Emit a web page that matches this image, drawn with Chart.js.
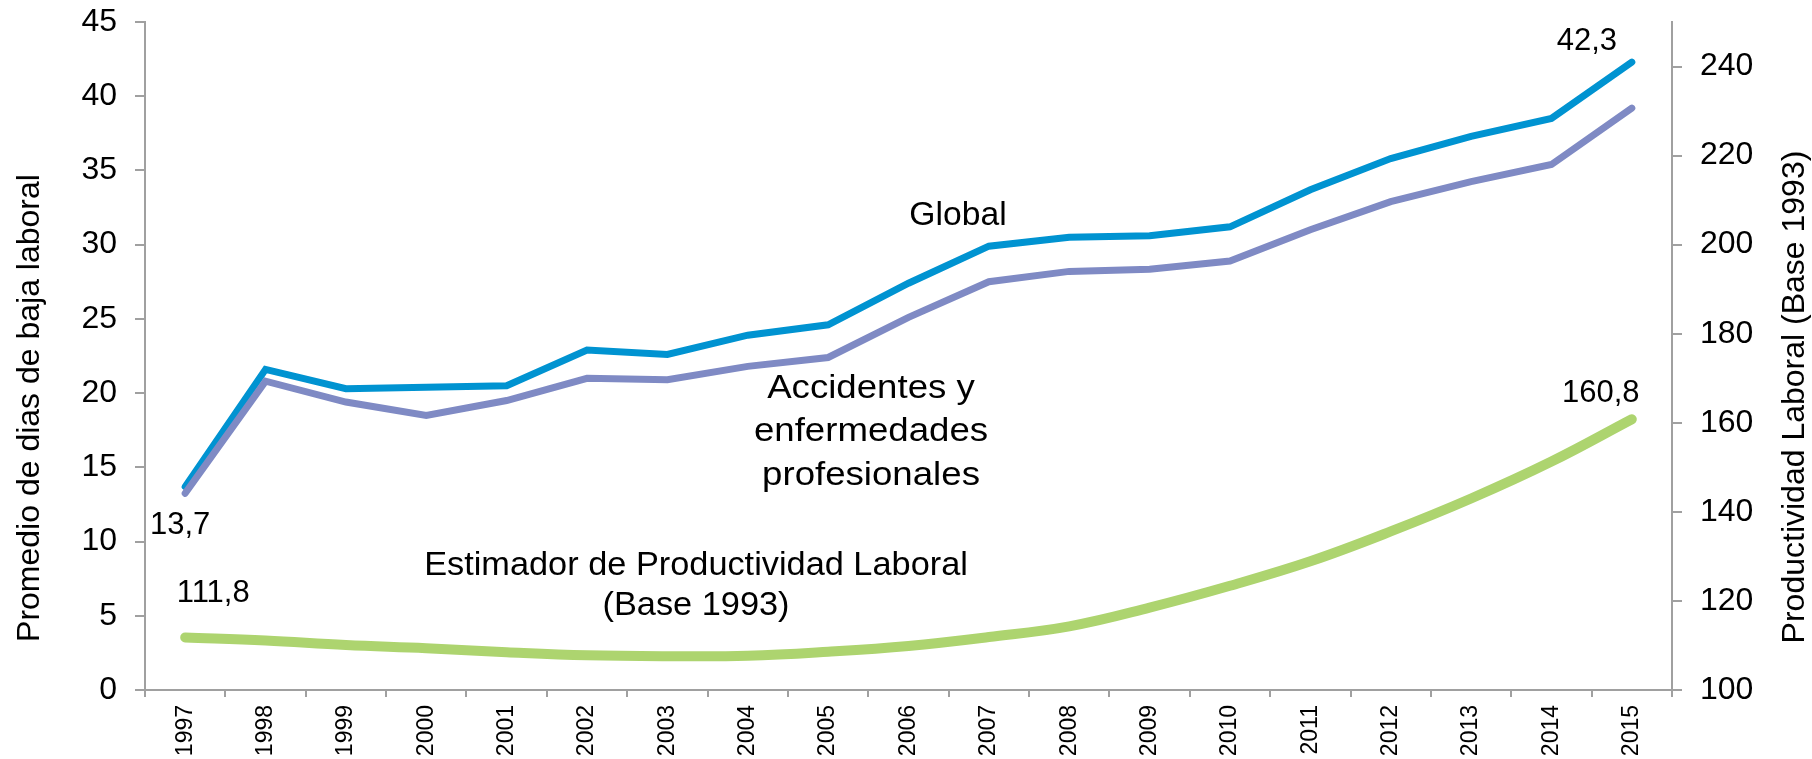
<!DOCTYPE html>
<html>
<head>
<meta charset="utf-8">
<script src="https://cdn.jsdelivr.net/npm/chart.js@4.4.1/dist/chart.umd.min.js"></script>
<style>
  html, body { margin: 0; padding: 0; background: #ffffff; }
  canvas { display: block; }
</style>
</head>
<body>
<canvas id="c" width="1812" height="759"></canvas>
<script>
// ---- data ----
const years = ['1997','1998','1999','2000','2001','2002','2003','2004','2005','2006','2007','2008','2009','2010','2011','2012','2013','2014','2015'];
const globalDays = [13.7, 21.6, 20.3, 20.4, 20.5, 22.9, 22.6, 23.9, 24.6, 27.4, 29.9, 30.5, 30.6, 31.2, 33.7, 35.8, 37.3, 38.5, 42.3];
const accidentDays = [13.25, 20.8, 19.4, 18.5, 19.5, 21.0, 20.9, 21.8, 22.4, 25.1, 27.5, 28.2, 28.35, 28.9, 31.0, 32.9, 34.25, 35.4, 39.2];
const productivity = [111.8, 111.1, 110.1, 109.4, 108.5, 107.8, 107.6, 107.7, 108.6, 109.9, 111.9, 114.3, 118.5, 123.4, 128.9, 135.6, 143.0, 151.3, 160.8];
const leftTitle = 'Promedio de dias de baja laboral';
const rightTitle = 'Productividad Laboral (Base 1993)';
const labelGlobal = ['Global'];
const labelAccidents = ['Accidentes y', 'enfermedades', 'profesionales'];
const labelProductivity = ['Estimador de Productividad Laboral', '(Base 1993)'];

const FONT = "'Liberation Sans', Arial, sans-serif";
const AXIS_GRAY = '#A0A0A0';

function fmt(v) { return String(v).replace('.', ','); }

const textPlugin = {
  id: 'texts',
  afterDatasetsDraw(chart) {
    const ctx = chart.ctx;
    const x = chart.scales.x, y = chart.scales.y, y1 = chart.scales.y1;
    const last = years.length - 1;
    ctx.save();
    ctx.fillStyle = '#000';

    // axis titles
    ctx.font = '32px ' + FONT;
    ctx.textAlign = 'center';
    ctx.textBaseline = 'alphabetic';
    ctx.save(); ctx.translate(38.5, 408); ctx.rotate(-Math.PI / 2); ctx.fillText(leftTitle, 0, 0); ctx.restore();
    ctx.save(); ctx.translate(1803.5, 397); ctx.rotate(-Math.PI / 2); ctx.fillText(rightTitle, 0, 0); ctx.restore();

    // value labels
    ctx.font = '31px ' + FONT;
    ctx.fillText(fmt(globalDays[0]), x.getPixelForValue(0) - 5, y.getPixelForValue(globalDays[0]) + 47);
    ctx.fillText(fmt(globalDays[last]), x.getPixelForValue(last) - 45, y.getPixelForValue(globalDays[last]) - 12);
    ctx.fillText(fmt(productivity[0]), x.getPixelForValue(0) + 28, y1.getPixelForValue(productivity[0]) - 35);
    ctx.fillText(fmt(productivity[last]), x.getPixelForValue(last) - 31, y1.getPixelForValue(productivity[last]) - 17);

    // series annotations
    ctx.font = '33px ' + FONT;
    function block(lines, cx, baseY, lh, sx) {
      lines.forEach((t, i) => {
        ctx.save();
        ctx.translate(cx, baseY + i * lh);
        ctx.scale(sx, 1);
        ctx.fillText(t, 0, 0);
        ctx.restore();
      });
    }
    block(labelGlobal, 958, 225, 0, 1.02);
    block(labelAccidents, 871, 397.5, 43.7, 1.11);
    block(labelProductivity, 696, 575, 40, 1.04);
    ctx.restore();
  }
};

const gridCommon = { drawOnChartArea: false, color: AXIS_GRAY, lineWidth: 2 };
const borderCommon = { display: true, color: AXIS_GRAY, width: 2 };

function fitV(width) {
  return function (s) { s.width = width; s.paddingTop = 0; s.paddingBottom = 0; };
}

new Chart(document.getElementById('c'), {
  type: 'line',
  data: {
    labels: years,
    datasets: [
      { label: 'Accidentes y enfermedades profesionales', data: accidentDays, yAxisID: 'y',
        borderColor: '#7F8AC4', borderWidth: 7, pointRadius: 0, tension: 0,
        borderCapStyle: 'round', borderJoinStyle: 'miter', fill: false },
      { label: 'Global', data: globalDays, yAxisID: 'y',
        borderColor: '#0093D1', borderWidth: 7, pointRadius: 0, tension: 0,
        borderCapStyle: 'round', borderJoinStyle: 'miter', fill: false },
      { label: 'Estimador de Productividad Laboral (Base 1993)', data: productivity, yAxisID: 'y1',
        borderColor: '#ADD46F', borderWidth: 10, pointRadius: 0, tension: 0.4,
        borderCapStyle: 'round', borderJoinStyle: 'round', fill: false }
    ]
  },
  options: {
    responsive: false,
    devicePixelRatio: 1,
    animation: false,
    layout: { padding: { top: 22, left: 0, right: 0, bottom: 0 } },
    plugins: { legend: { display: false }, tooltip: { enabled: false } },
    scales: {
      x: {
        type: 'category',
        offset: true,
        grid: Object.assign({}, gridCommon, { offset: true, tickLength: 7 }),
        border: borderCommon,
        ticks: { autoSkip: false, maxRotation: 90, minRotation: 90, padding: 8,
                 color: '#000', font: { family: FONT, size: 23 } },
        afterFit(s) { s.height = 69; s.paddingLeft = 0; s.paddingRight = 0; }
      },
      y: {
        position: 'left',
        min: 0, max: 45,
        grid: Object.assign({}, gridCommon, { tickLength: 10 }),
        border: borderCommon,
        ticks: { stepSize: 5, padding: 18, color: '#000', font: { family: FONT, size: 32 } },
        afterFit: fitV(145)
      },
      y1: {
        position: 'right',
        min: 100, max: 250,
        grid: Object.assign({}, gridCommon, { tickLength: 10 }),
        border: borderCommon,
        ticks: { stepSize: 20, includeBounds: false, padding: 18, color: '#000', font: { family: FONT, size: 32 } },
        afterFit: fitV(140)
      }
    }
  },
  plugins: [textPlugin]
});
</script>
</body>
</html>
